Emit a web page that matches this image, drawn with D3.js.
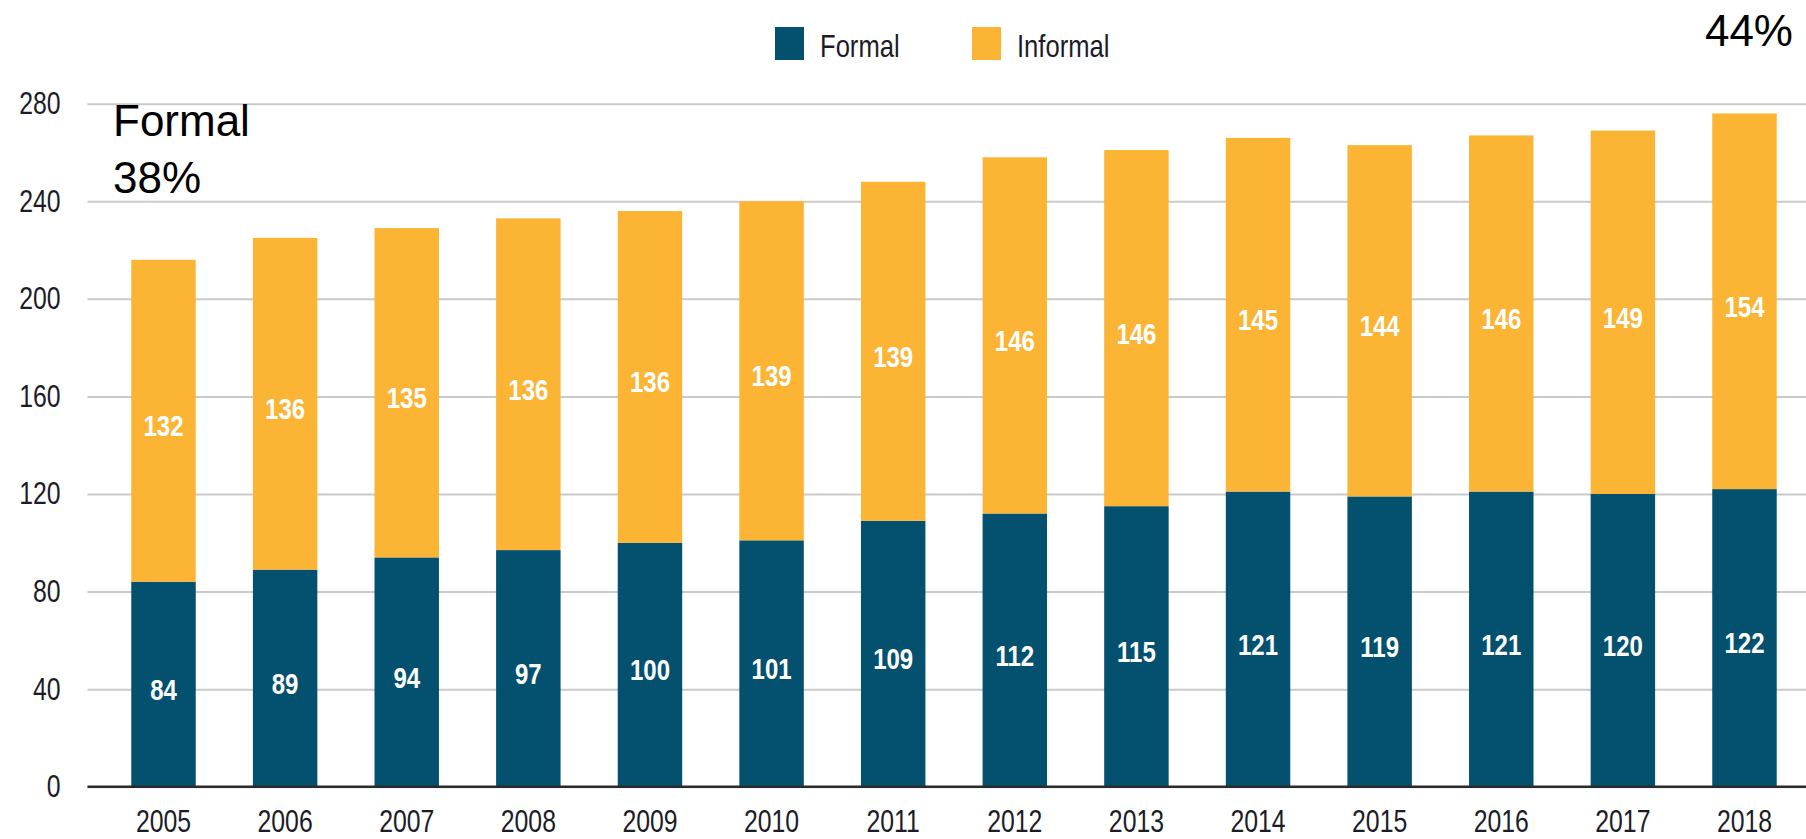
<!DOCTYPE html>
<html>
<head>
    <meta charset="utf-8">
    <script src="https://d3js.org/d3.v7.min.js"></script>
    <style>
        body { margin: 0; background: #fff; }
        svg { display: block; }
    </style>
</head>
<body>
    <div id="chart"></div>
    <script type="text/javascript">
    // data
    var years = ["2005", "2006", "2007", "2008", "2009", "2010", "2011", "2012", "2013", "2014", "2015", "2016", "2017", "2018"];
    var formal = [84, 89, 94, 97, 100, 101, 109, 112, 115, 121, 119, 121, 120, 122];
    var informal = [132, 136, 135, 136, 136, 139, 139, 146, 146, 145, 144, 146, 149, 154];
    var yTicks = [0, 40, 80, 120, 160, 200, 240, 280];
    var seriesNames = ["Formal", "Informal"];

    var colors = ["#03516f", "#fbb433"];
    var sans = "'Liberation Sans', Arial, sans-serif";
    // the original uses a narrow face, squeeze Liberation Sans sideways
    var squeeze = 0.8;

    var width = 1806, height = 839;

    var svg = d3.select("#chart")
        .append("svg")
        .attr("width", width)
        .attr("height", height);

    //scale
    var xScale = d3.scaleBand()
        .domain(years)
        .range([102.7, 1805.3])
        .paddingInner(0.47)
        .paddingOuter(0.235);
    var yScale = d3.scaleLinear().domain([0, 280]).range([786.7, 103.7]);

    // y axis with grid lines
    var yAxis = svg.append("g")
        .attr("transform", "translate(87.5,0)")
        .call(d3.axisLeft(yScale).tickValues(yTicks).tickSize(-(width - 87.5)));
    yAxis.select(".domain").remove();
    yAxis.selectAll(".tick line").attr("stroke", "#c9c9c9").attr("stroke-width", 2);
    yAxis.selectAll(".tick text")
        .attr("x", -27 / squeeze)
        .attr("transform", "scale(" + squeeze + ",1)")
        .style("font-family", sans)
        .style("font-size", "31px")
        .style("fill", "#1c1c28");

    // stack the two series
    var rows = years.map(function (y, i) {
        return { year: y, Formal: formal[i], Informal: informal[i] };
    });
    var stacked = d3.stack().keys(seriesNames)(rows);

    stacked.forEach(function (layer, i) {
        svg.selectAll(".bar" + i)
            .data(layer)
            .enter()
            .append("rect")
            .attr("class", "bar" + i)
            .attr("x", d => xScale(d.data.year))
            .attr("y", d => yScale(d[1]))
            .attr("width", xScale.bandwidth())
            .attr("height", d => yScale(d[0]) - yScale(d[1]))
            .style("fill", colors[i]);

        svg.selectAll(".lab" + i)
            .data(layer)
            .enter()
            .append("text")
            .attr("class", "lab" + i)
            .attr("transform", d => "translate(" + (xScale(d.data.year) + xScale.bandwidth() / 2) + "," +
                ((yScale(d[0]) + yScale(d[1])) / 2 + 5) + ") scale(" + squeeze + ",1)")
            .attr("text-anchor", "middle")
            .attr("dominant-baseline", "central")
            .text(d => d[1] - d[0])
            .style("font-family", sans)
            .style("font-weight", "bold")
            .style("font-size", "30px")
            .style("fill", "#fff");
    });

    // baseline
    svg.append("line")
        .attr("x1", 87.5)
        .attr("x2", width)
        .attr("y1", yScale(0))
        .attr("y2", yScale(0))
        .attr("stroke", "#2b2b2b")
        .attr("stroke-width", 2.5);

    // x axis
    var xAxis = svg.append("g")
        .attr("transform", "translate(0," + yScale(0) + ")")
        .call(d3.axisBottom(xScale).tickSize(0).tickPadding(23.5));
    xAxis.select(".domain").remove();
    xAxis.selectAll(".tick text")
        .attr("transform", "scale(" + squeeze + ",1)")
        .style("font-family", sans)
        .style("font-size", "31px")
        .style("fill", "#1c1c28");

    //legend
    var legendX = [775, 972];
    var legend = svg.selectAll(".legend")
        .data(seriesNames)
        .enter()
        .append("g")
        .attr("transform", (d, i) => "translate(" + legendX[i] + ",27)");
    legend.append("rect")
        .attr("width", 29)
        .attr("height", 33)
        .attr("fill", (d, i) => colors[i]);
    legend.append("text")
        .attr("transform", "translate(45,30) scale(" + squeeze + ",1)")
        .text(d => d)
        .style("font-family", sans)
        .style("font-size", "32px")
        .style("fill", "#1c1c28");

    // share notes
    var notes = [
        { text: "Formal", x: 113, y: 136, anchor: "start" },
        { text: "38%", x: 113, y: 193, anchor: "start" },
        { text: "44%", x: 1793, y: 46, anchor: "end" }
    ];
    svg.selectAll(".note")
        .data(notes)
        .enter()
        .append("text")
        .attr("x", d => d.x)
        .attr("y", d => d.y)
        .attr("text-anchor", d => d.anchor)
        .text(d => d.text)
        .style("font-family", sans)
        .style("font-size", "44px")
        .style("fill", "#000");
    </script>
</body>
</html>
